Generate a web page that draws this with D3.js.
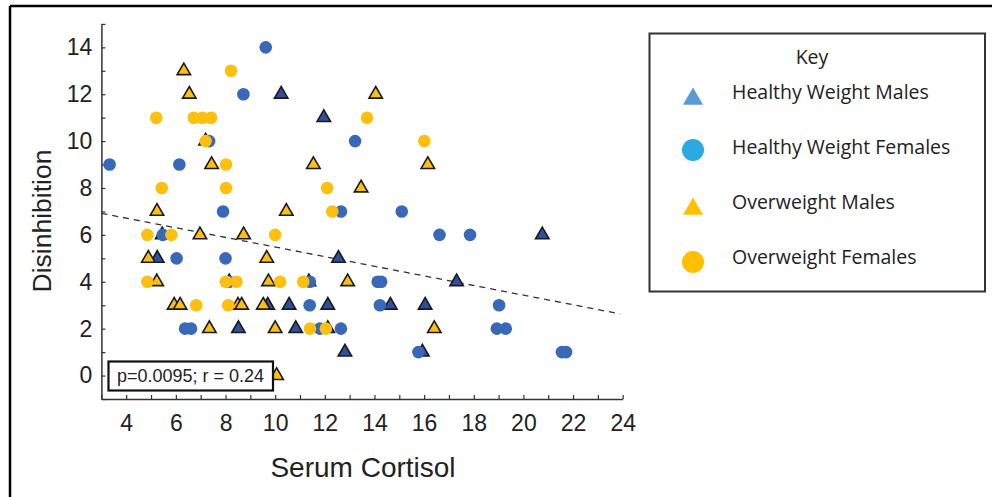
<!DOCTYPE html>
<html>
<head>
<meta charset="utf-8">
<script src="https://cdn.jsdelivr.net/npm/d3@7"></script>
<style>
  body { margin: 0; background: #fff; }
  svg { display: block; }
</style>
</head>
<body>
<div id="chart"></div>
<script>
// points, [serum cortisol, disinhibition]
const healthyMales = [
  [10.24, 12], [11.96, 11], [5.45, 6], [20.76, 6], [5.25, 5], [12.55, 5],
  [8.15, 4], [11.36, 4], [17.31, 4], [9.7, 3], [10.56, 3], [12.12, 3],
  [14.64, 3], [16.04, 3], [8.52, 2], [10.83, 2], [12.12, 2], [12.81, 1], [15.93, 1]
];
const overweightMales = [
  [6.32, 13], [6.54, 12], [14.05, 12], [7.2, 10], [7.44, 9], [11.54, 9],
  [16.15, 9], [13.46, 8], [5.24, 7], [10.45, 7], [6.97, 6], [8.73, 6],
  [4.89, 5], [9.66, 5], [5.23, 4], [9.73, 4], [12.92, 4], [5.93, 3],
  [6.17, 3], [8.5, 3], [8.65, 3], [9.52, 3], [7.35, 2], [10.0, 2], [16.41, 2], [10.06, 0]
];
const healthyFemales = [
  [9.62, 14], [8.72, 12], [13.22, 10], [7.34, 10], [3.33, 9], [6.14, 9],
  [7.9, 7], [12.65, 7], [15.1, 7], [5.47, 6], [16.62, 6], [17.85, 6],
  [6.03, 5], [8.0, 5], [8.15, 4], [11.4, 4], [14.13, 4], [14.27, 4],
  [11.39, 3], [14.22, 3], [19.02, 3], [6.37, 2], [6.61, 2], [11.8, 2],
  [12.65, 2], [18.93, 2], [19.29, 2], [15.77, 1], [21.55, 1], [21.72, 1]
];
const overweightFemales = [
  [8.22, 13], [5.21, 11], [6.72, 11], [7.07, 11], [7.42, 11], [13.7, 11],
  [7.2, 10], [16.01, 10], [8.02, 9], [5.43, 8], [8.02, 8], [12.09, 8],
  [12.3, 7], [4.85, 6], [5.82, 6], [10.0, 6], [4.85, 4], [8.01, 4],
  [8.44, 4], [10.2, 4], [11.13, 4], [6.82, 3], [8.11, 3], [11.4, 2], [12.04, 2]
];

const legendLabels = ["Healthy Weight Males", "Healthy Weight Females", "Overweight Males", "Overweight Females"];
const xTicks = d3.range(3, 25);
const yTicks = d3.range(-1, 16);
const fitLine = [[3, 6.92], [23.9, 2.63]];
const statText = "p=0.0095; r = 0.24";

const width = 992, height = 497;
const svg = d3.select("#chart").append("svg")
  .attr("width", width)
  .attr("height", height);

// outer frame (only top and left are visible)
svg.append("line").attr("x1", 10).attr("y1", 6).attr("x2", width).attr("y2", 6)
  .attr("stroke", "#000").attr("stroke-width", 2.5);
svg.append("line").attr("x1", 10).attr("y1", 6).attr("x2", 10).attr("y2", height)
  .attr("stroke", "#000").attr("stroke-width", 2.5);

const x = d3.scaleLinear().domain([3, 24]).range([101.4, 622.7]);
const y = d3.scaleLinear().domain([-1, 15]).range([399, 23.9]);

const axisFont = "'Liberation Sans', Arial, sans-serif";

const xAxis = svg.append("g")
  .attr("transform", `translate(0,${y(-1)})`)
  .call(d3.axisBottom(x).tickValues(xTicks)
    .tickSizeInner(-4).tickSizeOuter(0).tickPadding(16)
    .tickFormat(d => d % 2 === 0 && d >= 4 ? d : ""));

const yAxis = svg.append("g")
  .attr("transform", `translate(${x(3)},0)`)
  .call(d3.axisLeft(y).tickValues(yTicks)
    .tickSizeInner(-4).tickSizeOuter(0).tickPadding(9)
    .tickFormat(d => d % 2 === 0 && d >= 0 && d <= 14 ? d : ""));

[xAxis, yAxis].forEach(g => {
  g.select(".domain").attr("stroke", "#333").attr("stroke-width", 1.5);
  g.selectAll(".tick line").attr("stroke", "#333").attr("stroke-width", 1.2);
  g.selectAll(".tick text")
    .attr("fill", "#222")
    .style("font-family", axisFont)
    .style("font-size", "23px");
});

svg.append("text")
  .attr("transform", "translate(51,221) rotate(-90)")
  .attr("text-anchor", "middle")
  .attr("fill", "#222")
  .style("font-family", axisFont)
  .style("font-size", "26.5px")
  .text("Disinhibition");

svg.append("text")
  .attr("x", 363).attr("y", 477)
  .attr("text-anchor", "middle")
  .attr("fill", "#222")
  .style("font-family", axisFont)
  .style("font-size", "28px")
  .text("Serum Cortisol");

// dashed fit line
svg.append("path")
  .datum(fitLine)
  .attr("d", d3.line().x(d => x(d[0])).y(d => y(d[1])))
  .attr("fill", "none")
  .attr("stroke", "#333")
  .attr("stroke-width", 1.3)
  .attr("stroke-dasharray", "6,5");

const triangle = d3.symbol().type(d3.symbolTriangle).size(78);

function drawTriangles(data, fill){
  svg.append("g").selectAll("path")
    .data(data)
    .join("path")
    .attr("d", triangle)
    .attr("transform", d => `translate(${x(d[0])},${y(d[1])})`)
    .attr("fill", fill)
    .attr("stroke", "#1a1a1a")
    .attr("stroke-width", 1.6);
}

function drawCircles(data, fill){
  svg.append("g").selectAll("circle")
    .data(data)
    .join("circle")
    .attr("cx", d => x(d[0]))
    .attr("cy", d => y(d[1]))
    .attr("r", 6.3)
    .attr("fill", fill);
}

drawTriangles(healthyMales, "#2f4f9e");
drawTriangles(overweightMales, "#fdc010");
drawCircles(healthyFemales, "#3a68b8");
drawCircles(overweightFemales, "#fdc010");

// stats box
svg.append("rect")
  .attr("x", 108.5).attr("y", 361.5)
  .attr("width", 164.5).attr("height", 29)
  .attr("fill", "#fff")
  .attr("stroke", "#111")
  .attr("stroke-width", 2.2);

svg.append("text")
  .attr("x", 190.5).attr("y", 382)
  .attr("text-anchor", "middle")
  .attr("fill", "#222")
  .style("font-family", axisFont)
  .style("font-size", "18px")
  .text(statText);

// key
const legendFont = "'Open Sans', Lato, sans-serif";
svg.append("rect")
  .attr("x", 649.5).attr("y", 33.5)
  .attr("width", 335.5).attr("height", 258)
  .attr("fill", "#fff")
  .attr("stroke", "#333")
  .attr("stroke-width", 2);

svg.append("text")
  .attr("x", 812).attr("y", 57)
  .attr("dy", "0.35em")
  .attr("text-anchor", "middle")
  .attr("fill", "#222")
  .style("font-family", legendFont)
  .style("font-size", "19.5px")
  .text("Key");

const legendRows = [
  { label: legendLabels[0], shape: "tri", fill: "#5b9bd5", sy: 99, ty: 92 },
  { label: legendLabels[1], shape: "circ", fill: "#29abe2", sy: 150, ty: 147 },
  { label: legendLabels[2], shape: "tri", fill: "#ffc000", sy: 209, ty: 202 },
  { label: legendLabels[3], shape: "circ", fill: "#ffc000", sy: 262, ty: 257 }
];

const legendRow = svg.append("g").selectAll("g")
  .data(legendRows)
  .join("g");

legendRow.filter(d => d.shape === "tri").append("path")
  .attr("d", d3.symbol().type(d3.symbolTriangle).size(175))
  .attr("transform", d => `translate(693,${d.sy})`)
  .attr("fill", d => d.fill);

legendRow.filter(d => d.shape === "circ").append("circle")
  .attr("cx", 693).attr("cy", d => d.sy)
  .attr("r", 11)
  .attr("fill", d => d.fill);

legendRow.append("text")
  .attr("x", 732).attr("y", d => d.ty)
  .attr("dy", "0.35em")
  .attr("fill", "#222")
  .style("font-family", legendFont)
  .style("font-size", "19.5px")
  .text(d => d.label);
</script>
</body>
</html>
